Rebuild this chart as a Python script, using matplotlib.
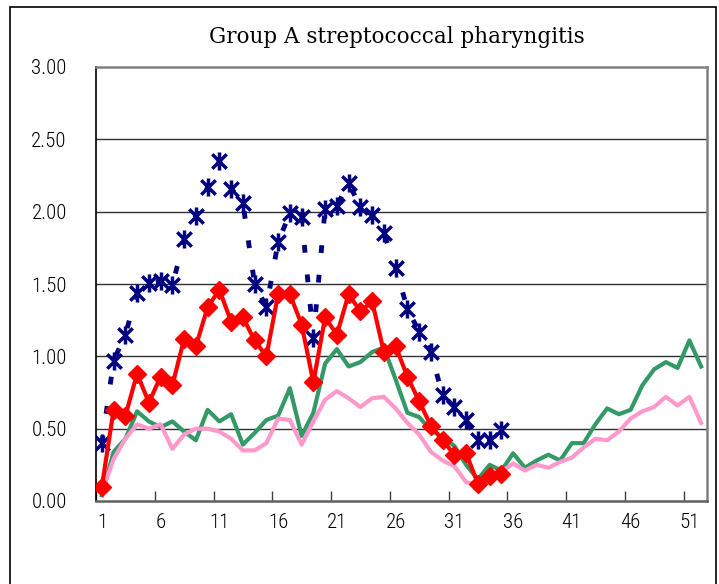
import matplotlib
matplotlib.use("Agg")
import matplotlib.pyplot as plt
from matplotlib.path import Path
from matplotlib.patches import Rectangle
from matplotlib import font_manager
import numpy as np

weeks = list(range(1, 53))

navy_vals = [0.40, 0.97, 1.15, 1.44, 1.51, 1.52, 1.49, 1.81, 1.97, 2.17,
             2.35, 2.16, 2.06, 1.50, 1.34, 1.79, 1.99, 1.96, 1.13, 2.02,
             2.04, 2.20, 2.03, 1.98, 1.85, 1.61, 1.33, 1.17, 1.03, 0.73,
             0.65, 0.56, 0.42, 0.42, 0.49]

red_vals = [0.10, 0.63, 0.59, 0.88, 0.68, 0.86, 0.80, 1.12, 1.07, 1.34,
            1.46, 1.24, 1.27, 1.11, 1.00, 1.43, 1.43, 1.22, 0.82, 1.27,
            1.15, 1.43, 1.31, 1.38, 1.03, 1.07, 0.86, 0.69, 0.52, 0.42,
            0.32, 0.33, 0.12, 0.17, 0.19]

green_vals = [0.04, 0.34, 0.43, 0.62, 0.55, 0.51, 0.55, 0.48, 0.42, 0.63,
              0.55, 0.60, 0.39, 0.47, 0.56, 0.59, 0.78, 0.45, 0.61, 0.95,
              1.05, 0.93, 0.96, 1.03, 1.06, 0.84, 0.61, 0.58, 0.49, 0.44,
              0.38, 0.25, 0.15, 0.25, 0.21, 0.33, 0.23, 0.28, 0.32, 0.28,
              0.40, 0.40, 0.53, 0.64, 0.60, 0.63, 0.80, 0.91, 0.96, 0.92,
              1.11, 0.93]

pink_vals = [0.06, 0.29, 0.43, 0.53, 0.50, 0.53, 0.36, 0.46, 0.50, 0.50,
             0.48, 0.43, 0.35, 0.35, 0.40, 0.57, 0.56, 0.39, 0.55, 0.70,
             0.76, 0.71, 0.65, 0.71, 0.72, 0.64, 0.54, 0.46, 0.34, 0.28,
             0.24, 0.13, 0.11, 0.16, 0.20, 0.26, 0.21, 0.25, 0.23, 0.27,
             0.30, 0.37, 0.43, 0.42, 0.48, 0.57, 0.62, 0.65, 0.72, 0.66,
             0.72, 0.54]

x_labels = ["1", "6", "11", "16", "21", "26", "31", "36", "41", "46", "51"]
y_ticks = [0.0, 0.5, 1.0, 1.5, 2.0, 2.5, 3.0]
title = "Group A streptococcal pharyngitis"

available = {f.name for f in font_manager.fontManager.ttflist}
tick_font = [f for f in ["DejaVu Sans Condensed", "Liberation Sans Narrow",
                         "Roboto Condensed", "Liberation Sans", "DejaVu Sans"]
             if f in available] or ["DejaVu Sans"]

fig = plt.figure(figsize=(7.19, 5.84), dpi=100)
W, H = 719, 584
ax = fig.add_axes([96 / W, 1 - 501 / H, (707 - 96) / W, (501 - 67) / H])

# figure border
fig.patches.append(Rectangle((10 / W, -0.01), (716 - 10) / W, (584 - 7) / H + 0.01,
                             transform=fig.transFigure, fill=False,
                             edgecolor="black", linewidth=1.2, zorder=0))

star = Path([(0, -1), (0, 1), (-0.8, -0.8), (0.8, 0.8), (-0.8, 0.8), (0.8, -0.8)],
            [Path.MOVETO, Path.LINETO, Path.MOVETO, Path.LINETO, Path.MOVETO, Path.LINETO])

nw = weeks[:len(navy_vals)]
rw = weeks[:len(red_vals)]

ax.plot(weeks, green_vals, color="#339966", lw=3, zorder=3)
ax.plot(weeks, pink_vals, color="#FF99CC", lw=3, zorder=3)
ax.plot(nw, navy_vals, color="#000080", lw=3.5, linestyle=(0, (1.6, 4.5)),
        marker=star, markersize=13, markeredgewidth=2.5, markeredgecolor="#000080",
        zorder=4)
ax.plot(rw, red_vals, color="#FF0000", lw=3, marker="D", markersize=9,
        markerfacecolor="#FF0000", markeredgecolor="#FF0000", zorder=5)

ax.set_xlim(0.5, 52.5)
ax.set_ylim(0, 3.0)
ax.set_yticks(y_ticks)
ax.set_yticklabels([f"{v:.2f}" for v in y_ticks], fontsize=15, family=tick_font,
                   fontweight="light")
ax.set_xticks(list(range(1, 53, 5)))
ax.set_xticklabels(x_labels, fontsize=15, family=tick_font, fontweight="light")
ax.set_xticks([0.5 + 5 * k for k in range(11)], minor=True)

ax.tick_params(axis="y", length=0, pad=21)
ax.tick_params(axis="x", which="major", length=0, pad=9)
ax.tick_params(axis="x", which="minor", direction="in", length=7, width=1, color="#404040")

for v in y_ticks[1:-1]:
    ax.axhline(v, color="#303030", lw=1, zorder=1)

ax.spines["left"].set_color("black")
ax.spines["left"].set_linewidth(1.2)
ax.spines["bottom"].set_color("#606060")
ax.spines["bottom"].set_linewidth(1.8)
ax.spines["top"].set_color("#808080")
ax.spines["top"].set_linewidth(1.8)
ax.spines["right"].set_color("#808080")
ax.spines["right"].set_linewidth(1.8)

fig.text(397 / W, 1 - 37 / H, title, ha="center", va="center", fontsize=15.5,
         family=["DejaVu Serif", "Liberation Serif"])

fig.savefig("out.png", dpi=100)
